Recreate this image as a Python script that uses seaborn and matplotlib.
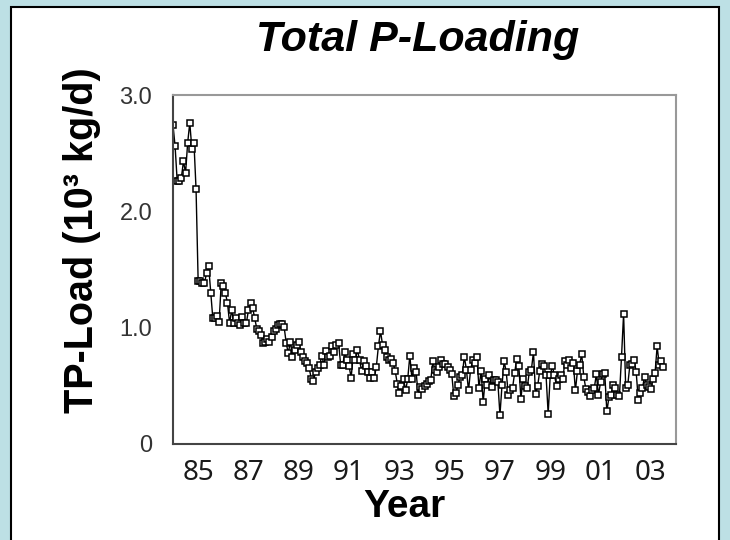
import numpy as np
import pandas as pd
import matplotlib
matplotlib.use("Agg")
import matplotlib.pyplot as plt
from matplotlib.patches import Rectangle
import seaborn as sns

# ---- data (monthly TP load, 10^3 kg/d), Jan 1984 .. Jul 2003 ----
start_month = "1984-01"
load_1984 = [2.74, 2.56, 2.26, 2.26, 2.29, 2.43, 2.33, 2.59, 2.76, 2.54, 2.59, 2.19]
load_1985_88 = [1.40, 1.40, 1.38, 1.38, 1.47, 1.53, 1.30, 1.08, 1.08, 1.10,
                1.05, 1.38, 1.36, 1.30, 1.21, 1.04, 1.15, 1.04, 1.08, 1.04,
                1.02, 1.09, 1.04, 1.04, 1.15, 1.21, 1.17, 1.08, 0.99, 0.97,
                0.94, 0.87, 0.88, 0.90, 0.88, 0.92, 0.97, 0.99, 1.02, 1.03,
                1.03, 1.01, 0.87, 0.78]
load_1988_94 = [0.88, 0.75, 0.81, 0.85, 0.88, 0.79, 0.75, 0.71, 0.70, 0.65,
                0.56, 0.54, 0.62, 0.65, 0.68, 0.76, 0.68, 0.80, 0.75, 0.76,
                0.84, 0.79, 0.85, 0.87, 0.68, 0.68, 0.79, 0.72, 0.67, 0.57,
                0.77, 0.72, 0.81, 0.72, 0.63, 0.71, 0.67, 0.62, 0.57, 0.62,
                0.57, 0.66, 0.84, 0.97, 0.85, 0.81, 0.75, 0.72, 0.73, 0.70,
                0.63, 0.52, 0.44, 0.50, 0.56, 0.46, 0.56, 0.76, 0.56, 0.65,
                0.62, 0.42, 0.49, 0.47, 0.50, 0.52]
load_1994_99 = [0.54, 0.55, 0.71, 0.64, 0.62, 0.66, 0.72, 0.69, 0.69, 0.66,
                0.64, 0.60, 0.41, 0.44, 0.51, 0.58, 0.59, 0.75, 0.64, 0.46,
                0.64, 0.72, 0.70, 0.75, 0.48, 0.63, 0.36, 0.56, 0.51, 0.59,
                0.49, 0.55, 0.55, 0.53, 0.25, 0.51, 0.71, 0.62, 0.42, 0.46,
                0.48, 0.61, 0.73, 0.67, 0.39, 0.56, 0.50, 0.48, 0.62, 0.64,
                0.79, 0.43, 0.50, 0.63, 0.69, 0.67, 0.59, 0.26, 0.59, 0.67,
                0.59, 0.50, 0.56, 0.59, 0.56, 0.71, 0.68]
load_1999_03 = [0.72, 0.65, 0.70, 0.46, 0.63, 0.68, 0.77, 0.58, 0.47, 0.45,
                0.41, 0.46, 0.48, 0.60, 0.42, 0.53, 0.60, 0.61, 0.28, 0.40,
                0.42, 0.51, 0.48, 0.42, 0.41, 0.75, 1.12, 0.48, 0.51, 0.68,
                0.69, 0.72, 0.62, 0.38, 0.44, 0.48, 0.58, 0.51, 0.49, 0.47,
                0.56, 0.61, 0.84, 0.68, 0.71, 0.66]

year_ticks = list(range(1985, 2004))
year_labels = ["85", "", "87", "", "89", "", "91", "", "93", "", "95", "", "97", "",
               "99", "", "01", "", "03"]
y_ticks = [0, 0.5, 1.0, 1.5, 2.0, 2.5, 3.0]
y_labels = ["0", "", "1.0", "", "2.0", "", "3.0"]

values = load_1984 + load_1985_88 + load_1988_94 + load_1994_99 + load_1999_03
dates = pd.date_range(start_month, periods=len(values), freq="MS")
df = pd.DataFrame({
    "year": dates.year + (dates.month - 1) / 12.0,
    "load": values,
})

# ---- figure ----
sns.set_theme(style="white")
plt.rcParams["font.family"] = ["Liberation Sans", "DejaVu Sans"]
plt.rcParams["text.color"] = "black"
plt.rcParams["axes.labelcolor"] = "black"

bg = "#bde0e5"
fig = plt.figure(figsize=(7.3, 5.4), dpi=100, facecolor=bg)
panel = Rectangle((11 / 730, -0.02), 708 / 730, 1.02 - 7 / 540,
                  transform=fig.transFigure, facecolor="white",
                  edgecolor="black", linewidth=1.5, zorder=-10)
fig.add_artist(panel)

ax = fig.add_axes([173 / 730, 1 - 444 / 540, (676 - 173) / 730, (444 - 95) / 540])
ax.set_facecolor("white")

sns.lineplot(data=df, x="year", y="load", ax=ax, color="black", linewidth=1.0,
             marker="s", markersize=4.4, markerfacecolor="white",
             markeredgecolor="black", markeredgewidth=1.1)

ax.set_xlim(1984, 2004)
ax.set_ylim(0, 3.0)
ax.set_xticks(year_ticks)
ax.set_xticklabels(year_labels)
ax.set_yticks(y_ticks)
ax.set_yticklabels(y_labels)

ax.tick_params(axis="x", direction="in", length=5, width=1, color="#555555",
               pad=11, labelsize=20, labelcolor="#1a1a1a")
ax.tick_params(axis="y", direction="in", length=8, width=1, color="#555555",
               pad=15, labelsize=17, labelcolor="#333333")
for lab in ax.get_xticklabels():
    lab.set_fontfamily(["Noto Sans", "DejaVu Sans"])

for side in ["left", "bottom"]:
    ax.spines[side].set_color("#444444")
    ax.spines[side].set_linewidth(1.5)
for side in ["top", "right"]:
    ax.spines[side].set_color("#999999")
    ax.spines[side].set_linewidth(1.5)
    ax.spines[side].set_visible(True)

ax.set_xlabel("Year", fontsize=28, fontweight="bold", color="black")
ax.xaxis.set_label_coords((404 - 173) / 503, (444 - 489) / 349)
ax.set_ylabel("TP-Load (10³ kg/d)", fontsize=28.5, fontweight="bold", color="black")
ax.yaxis.set_label_coords((101 - 173) / 503, (444 - 240) / 349)

fig.text(418 / 730, 1 - 40 / 540, "Total P-Loading", fontsize=31, color="black",
         fontweight="bold", fontstyle="italic", ha="center", va="center")

fig.savefig("out.png", dpi=100, facecolor=bg)
